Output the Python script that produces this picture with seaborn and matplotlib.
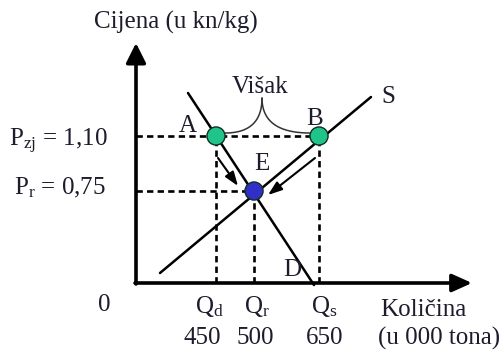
import matplotlib
matplotlib.use("Agg")
import matplotlib.pyplot as plt
import seaborn as sns
import numpy as np
import pandas as pd

sns.set_style("white")
plt.rcParams['font.family'] = ['Liberation Serif', 'DejaVu Serif']
plt.rcParams['mathtext.fontset'] = 'custom'
plt.rcParams['mathtext.rm'] = 'Liberation Serif'
plt.rcParams['mathtext.it'] = 'Liberation Serif:italic'

# schematic diagram units (origin = axis corner)
points = ['A', 'B', 'E']
point_x = [80, 183, 118]
point_y = [147, 147, 92]
point_colors = ['#1fc48b', '#1fc48b', '#3030c8']

demand_x = [52, 178]
demand_y = [190, -2]
supply_x = [24, 235]
supply_y = [10, 186]

q_symbols = [r'Q$_{\mathrm{d}}$', r'Q$_{\mathrm{r}}$', r'Q$_{\mathrm{s}}$']
q_values = ['450', '500', '650']
p_labels = [r'P$_{\mathrm{zj}}$ = 1,10', r'P$_{\mathrm{r}}$ = 0,75']

txt = '#1c1c2c'
fs = 18

fig = plt.figure(figsize=(5.04, 3.51), dpi=100)
ax = fig.add_axes([0, 0, 1, 1])
ax.set_xlim(-136, 368)
ax.set_ylim(-68, 283)
ax.axis('off')

# axes with arrows
ax.annotate('', xy=(0, 240), xytext=(0, -1),
            arrowprops=dict(arrowstyle='-|>,head_length=0.6,head_width=0.3',
                            lw=2.6, color='black', mutation_scale=20,
                            shrinkA=0, shrinkB=0))
ax.annotate('', xy=(336, 0), xytext=(-1, 0),
            arrowprops=dict(arrowstyle='-|>,head_length=0.6,head_width=0.27',
                            lw=2.6, color='black', mutation_scale=20,
                            shrinkA=0, shrinkB=0))

# dashed guides
dash = dict(color='black', lw=1.9, ls=(0, (2.4, 1.6)), zorder=2)
ax.plot([0, point_x[1]], [point_y[0], point_y[1]], **dash)
ax.plot([0, point_x[2]], [point_y[2], point_y[2]], **dash)
for x, y in zip(point_x, point_y):
    ax.plot([x, x], [0, y], **dash)

# supply and demand
curves = pd.DataFrame({
    'q': demand_x + supply_x,
    'p': demand_y + supply_y,
    'curve': ['D', 'D', 'S', 'S'],
})
sns.lineplot(data=curves, x='q', y='p', units='curve', estimator=None,
             color='black', lw=1.8, ax=ax, zorder=3, sort=False)

# surplus brace
t = np.linspace(0, 1, 50)
def bez(p0, p1, p2):
    return ((1 - t) ** 2)[:, None] * np.array(p0) + (2 * (1 - t) * t)[:, None] * np.array(p1) + (t ** 2)[:, None] * np.array(p2)
apex = (126, 185)
left = bez((point_x[0] + 9, 150), (apex[0], 150), apex)
right = bez(apex, (apex[0], 150), (point_x[1] - 9, 150))
ax.plot(left[:, 0], left[:, 1], color='#333333', lw=1.1, zorder=2)
ax.plot(right[:, 0], right[:, 1], color='#333333', lw=1.1, zorder=2)

# movement arrows
arr = dict(arrowstyle='-|>,head_length=0.7,head_width=0.25', lw=1.5,
           color='black', mutation_scale=12, shrinkA=0, shrinkB=0)
ax.annotate('', xy=(102, 97), xytext=(82, 125), arrowprops=arr)
ax.annotate('', xy=(132, 88), xytext=(179, 125), arrowprops=arr)

# points
pts = pd.DataFrame({'x': point_x, 'y': point_y, 'name': points})
sns.scatterplot(data=pts, x='x', y='y', hue='name', palette=point_colors,
                s=170, edgecolor='#103020', linewidth=1.0, legend=False,
                ax=ax, zorder=5)

# labels
ax.text(40, 261, 'Cijena (u kn/kg)', fontsize=fs, color=txt, ha='center', va='center')
ax.text(52, 157, 'A', fontsize=fs, color=txt, ha='center', va='center')
ax.text(179, 164, 'B', fontsize=fs, color=txt, ha='center', va='center')
ax.text(126, 119, 'E', fontsize=fs, color=txt, ha='center', va='center')
ax.text(156, 13, 'D', fontsize=fs, color=txt, ha='center', va='center')
ax.text(252, 186, 'S', fontsize=fs, color=txt, ha='center', va='center')
ax.text(124, 196, 'Višak', fontsize=fs, color=txt, ha='center', va='center')
ax.text(-32, -22, '0', fontsize=fs, color=txt, ha='center', va='center')
ax.text(-28, 137, p_labels[0], fontsize=fs, color=txt, ha='right', va='baseline')
ax.text(-30, 89, p_labels[1], fontsize=fs, color=txt, ha='right', va='baseline')
for x, s in zip([73, 121, 188], q_symbols):
    ax.text(x, -30, s, fontsize=fs, color=txt, ha='center', va='baseline')
for x, s in zip([66, 119, 189], q_values):
    ax.text(x, -55, s, fontsize=fs, color=txt, ha='center', va='center')
ax.text(244, -27, 'Količina', fontsize=fs, color=txt, ha='left', va='center')
ax.text(242, -55, '(u 000 tona)', fontsize=fs, color=txt, ha='left', va='center')

fig.savefig('out.png', dpi=100)
